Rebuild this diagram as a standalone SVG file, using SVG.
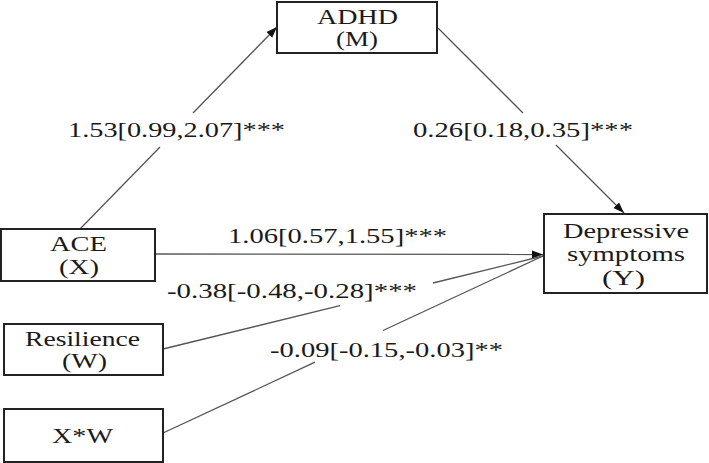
<svg xmlns="http://www.w3.org/2000/svg" width="709" height="463" viewBox="0 0 709 463">
<style>
.box{fill:#fff;stroke:#222;stroke-width:2}
.bt{font-family:"Liberation Serif","Times New Roman",serif;font-size:20px;fill:#1a1a1a;text-anchor:middle}
.lb{font-family:"Liberation Serif","Times New Roman",serif;font-size:22px;fill:#1a1a1a}
.ln{stroke:#555;stroke-width:1.3;fill:none}
</style>
<defs>
<marker id="ah" markerUnits="userSpaceOnUse" markerWidth="12" markerHeight="10" refX="11" refY="5" orient="auto">
<path d="M0,1 L11,5 L0,9 Z" fill="#111"/>
</marker>
</defs>
<g id="connectors">
<line class="ln" x1="80" y1="229" x2="160" y2="147"/>
<line class="ln" x1="193" y1="113" x2="277" y2="27" marker-end="url(#ah)"/>
<line class="ln" x1="438" y1="28" x2="523" y2="113"/>
<line class="ln" x1="556" y1="145" x2="624" y2="213" marker-end="url(#ah)"/>
<line class="ln" x1="155" y1="254" x2="543" y2="254.5" marker-end="url(#ah)"/>
<line class="ln" x1="163" y1="349" x2="340" y2="305.7"/>
<line class="ln" x1="433" y1="283" x2="543" y2="256"/>
<line class="ln" x1="163" y1="433" x2="315" y2="362.2"/>
<line class="ln" x1="383" y1="330.5" x2="543" y2="256"/>
</g>
<g id="labels">
<text class="lb" x="68" y="137" textLength="217" lengthAdjust="spacingAndGlyphs">1.53[0.99,2.07]***</text>
<text class="lb" x="413" y="137" textLength="220" lengthAdjust="spacingAndGlyphs">0.26[0.18,0.35]***</text>
<text class="lb" x="228" y="243" textLength="219" lengthAdjust="spacingAndGlyphs">1.06[0.57,1.55]***</text>
<text class="lb" x="167" y="298" textLength="250" lengthAdjust="spacingAndGlyphs">-0.38[-0.48,-0.28]***</text>
<text class="lb" x="270" y="357" textLength="233" lengthAdjust="spacingAndGlyphs">-0.09[-0.15,-0.03]**</text>
</g>
<g id="node-M">
<rect class="box" x="277" y="2" width="160" height="51"/>
<text class="bt" x="357.5" y="24" textLength="81" lengthAdjust="spacingAndGlyphs">ADHD</text>
<text class="bt" x="357" y="46" textLength="42" lengthAdjust="spacingAndGlyphs">(M)</text>
</g>
<g id="node-X">
<rect class="box" x="1" y="229" width="154" height="52"/>
<text class="bt" x="78.5" y="251" textLength="57" lengthAdjust="spacingAndGlyphs">ACE</text>
<text class="bt" x="79" y="274" textLength="40" lengthAdjust="spacingAndGlyphs">(X)</text>
</g>
<g id="node-W">
<rect class="box" x="4" y="324" width="159" height="51"/>
<text class="bt" x="82.5" y="346" textLength="115" lengthAdjust="spacingAndGlyphs">Resilience</text>
<text class="bt" x="84.5" y="368" textLength="45" lengthAdjust="spacingAndGlyphs">(W)</text>
</g>
<g id="node-XW">
<rect class="box" x="4" y="409" width="159" height="53"/>
<text class="bt" x="82.5" y="443" textLength="61" lengthAdjust="spacingAndGlyphs">X*W</text>
</g>
<g id="node-Y">
<rect class="box" x="544" y="214" width="163" height="79"/>
<text class="bt" x="626" y="238" style="font-size:22px" textLength="126" lengthAdjust="spacingAndGlyphs">Depressive</text>
<text class="bt" x="626" y="261" style="font-size:22px" textLength="118" lengthAdjust="spacingAndGlyphs">symptoms</text>
<text class="bt" x="623.5" y="285" style="font-size:22px" textLength="43" lengthAdjust="spacingAndGlyphs">(Y)</text>
</g>
</svg>
